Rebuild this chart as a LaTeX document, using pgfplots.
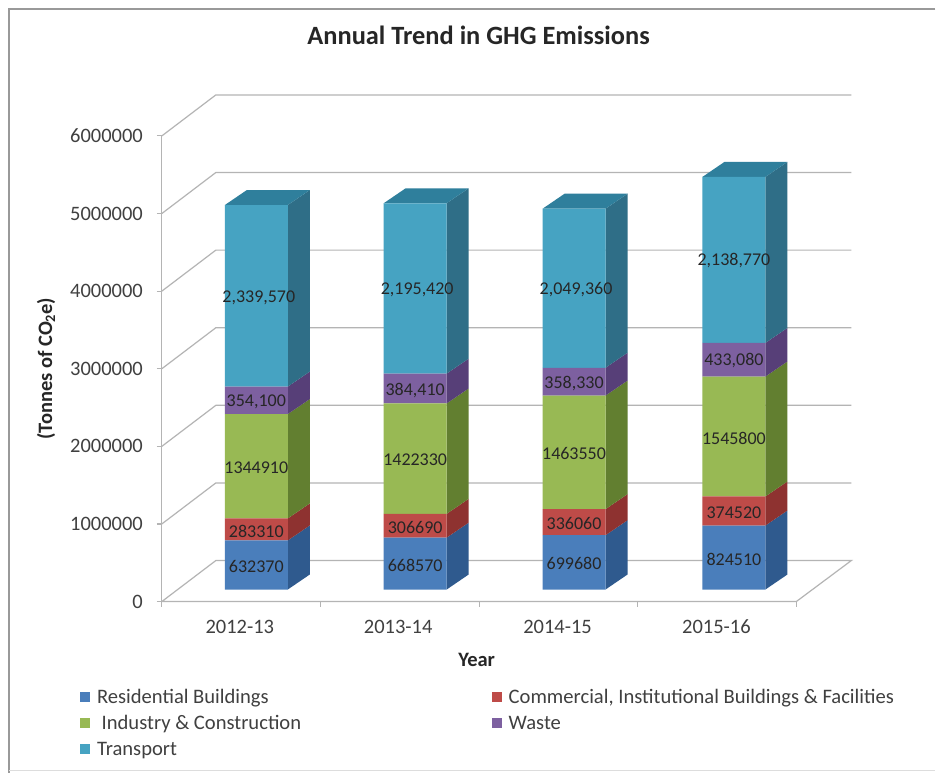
\documentclass[border=0pt]{standalone}
\usepackage{fontspec}
\setmainfont{Carlito}
\usepackage{pgfplots}
\usepackage{pgfplotstable}
\pgfplotsset{compat=1.18}

% Front face colours
\definecolor{resF}{HTML}{4A7EBB}
\definecolor{comF}{HTML}{BE4B48}
\definecolor{indF}{HTML}{98B954}
\definecolor{wasF}{HTML}{7D60A0}
\definecolor{traF}{HTML}{46A3C2}
% Side face colours
\definecolor{resS}{HTML}{2F5A8E}
\definecolor{comS}{HTML}{8E3230}
\definecolor{indS}{HTML}{627F30}
\definecolor{wasS}{HTML}{573F78}
\definecolor{traS}{HTML}{2F6E87}
\definecolor{traT}{HTML}{2F7F9C}
\definecolor{gridc}{HTML}{B4B4B4}
\definecolor{txtc}{HTML}{404040}

% Emissions per year (tonnes of CO2e)
\pgfplotstableread{
x     res    com    ind     was    tra
256.5 632370 283310 1344910 354100 2339570
415.5 668570 306690 1422330 384410 2195420
574.5 699680 336060 1463550 358330 2049360
734.5 824510 374520 1545800 433080 2138770
}\emissions

% Common frame: one x unit is one point, 466pt span 6 million tonnes
\pgfplotsset{
  frame/.style={
    anchor=south west, scale only axis, width=690pt, height=466pt,
    xmin=162, xmax=852, ymin=0, ymax=6000000, clip=false},
  hidden/.style={frame, hide axis, at={(162pt,184pt)}},
}

\newcommand\barwidth{63}
\newcommand\depthx{22}
\newcommand\depthy{193133}
% One side parallelogram: left x, lower value, upper value, colour
\newcommand\sideface[4]{%
  \edef\doplot{\noexpand\addplot[fill=#4,draw=none,forget plot] coordinates {
    (\the\numexpr#1+\barwidth\relax,#2)
    (\the\numexpr#1+\barwidth+\depthx\relax,\the\numexpr#2+\depthy\relax)
    (\the\numexpr#1+\barwidth+\depthx\relax,\the\numexpr#3+\depthy\relax)
    (\the\numexpr#1+\barwidth\relax,#3)};}\doplot}
% Side and top faces of a whole stack: left x, then the five segment values
\newcommand\stackfaces[6]{%
  \edef\va{\the\numexpr#2\relax}%
  \edef\vb{\the\numexpr\va+#3\relax}%
  \edef\vc{\the\numexpr\vb+#4\relax}%
  \edef\vd{\the\numexpr\vc+#5\relax}%
  \edef\ve{\the\numexpr\vd+#6\relax}%
  \sideface{#1}{0}{\va}{resS}%
  \sideface{#1}{\va}{\vb}{comS}%
  \sideface{#1}{\vb}{\vc}{indS}%
  \sideface{#1}{\vc}{\vd}{wasS}%
  \sideface{#1}{\vd}{\ve}{traS}%
  \edef\doplot{\noexpand\addplot[fill=traT,draw=none,forget plot] coordinates {
    (#1,\ve)
    (\the\numexpr#1+\barwidth\relax,\ve)
    (\the\numexpr#1+\barwidth+\depthx\relax,\the\numexpr\ve+\depthy\relax)
    (\the\numexpr#1+\depthx\relax,\the\numexpr\ve+\depthy\relax)};}\doplot}

\begin{document}
\begin{tikzpicture}[x=1pt,y=1pt]
\path[fill=white] (0,0) rectangle (936,774);
% Chart area border
\draw[gridc!85!black,line width=1.5pt] (936,765) -- (9,765) -- (9,0);
\draw[gridc!45,line width=.8pt] (9,3) -- (936,3);

% Walls, floor, ticks, titles and legend
\begin{axis}[frame, at={(162pt,172pt)},
  axis lines=left,
  axis line style={draw=gridc,line width=1.2pt,-},
  x axis line style={draw=none},
  tick style={draw=gridc,line width=1.2pt},
  tick align=outside,
  major tick length=5pt, minor tick length=5pt,
  ytick={0,1000000,...,6000000},
  xtick={240,398.5,558,717},
  xticklabels={2012-13,2013-14,2014-15,2015-16},
  major x tick style={draw=none},
  minor xtick={162,320.75,479.5,638.25,797},
  scaled y ticks=false,
  /pgf/number format/fixed,
  /pgf/number format/1000 sep={},
  /pgf/number format/assume math mode=true,
  ticklabel style={font=\fontsize{20.5}{22}\selectfont,text=txtc},
  xticklabel style={yshift=-10pt},
  yticklabel style={xshift=-10.5pt},
  title={Annual Trend in GHG Emissions},
  title style={font=\bfseries\fontsize{26.4}{30}\selectfont,text=black!85,anchor=center,
    at={(axis description cs:0.4594,1.2039)}},
  xlabel={Year},
  xlabel style={font=\bfseries\fontsize{20.5}{24}\selectfont,text=black!85,anchor=center,
    at={(axis description cs:0.4565,-0.1245)}},
  ylabel={(Tonnes of CO\textsubscript{2}e)},
  ylabel style={font=\bfseries\fontsize{20.5}{24}\selectfont,text=black!85,anchor=center,
    at={(axis description cs:-0.168,0.5)}},
  legend columns=2,
  legend cell align=left,
  legend style={draw=none,fill=none,at={(axis description cs:-0.1233,-0.1730)},anchor=north west,
    font=\fontsize{20.6}{24}\selectfont,text=txtc,
    nodes={inner ysep=0pt,minimum height=26pt},row sep=0pt,column sep=0pt},
  legend image code/.code={\path[#1,draw=none] (0pt,-5pt) rectangle (10pt,5pt);\path[draw=none,fill=none] (0pt,0pt) -- (15pt,0pt);},
]
% Grid lines across the left and back walls
\addplot[gridc,line width=1.2pt,forget plot] coordinates {(162,1000000)(216,1527880)(852,1527880)};
\addplot[gridc,line width=1.2pt,forget plot] coordinates {(162,2000000)(216,2527880)(852,2527880)};
\addplot[gridc,line width=1.2pt,forget plot] coordinates {(162,3000000)(216,3527880)(852,3527880)};
\addplot[gridc,line width=1.2pt,forget plot] coordinates {(162,4000000)(216,4527880)(852,4527880)};
\addplot[gridc,line width=1.2pt,forget plot] coordinates {(162,5000000)(216,5527880)(852,5527880)};
\addplot[gridc,line width=1.2pt,forget plot] coordinates {(162,6000000)(216,6527880)(852,6527880)};
% Floor outline
\addplot[gridc,line width=1.2pt,forget plot] coordinates {(162,0)(216,527880)(852,527880)(797,0)(162,0)};
% Legend entries
\addlegendimage{fill=resF}\addlegendentry{\makebox[393pt][l]{Residential Buildings}}
\addlegendimage{fill=comF}\addlegendentry{Commercial, Institutional Buildings \& Facilities}
\addlegendimage{fill=indF}\addlegendentry{\makebox[393pt][l]{\ Industry \& Construction}}
\addlegendimage{fill=wasF}\addlegendentry{Waste}
\addlegendimage{fill=traF}\addlegendentry{Transport}
\end{axis}

% Side and top faces of the bars
\begin{axis}[hidden]
\stackfaces{225}{632370}{283310}{1344910}{354100}{2339570}
\stackfaces{384}{668570}{306690}{1422330}{384410}{2195420}
\stackfaces{543}{699680}{336060}{1463550}{358330}{2049360}
\stackfaces{703}{824510}{374520}{1545800}{433080}{2138770}
\end{axis}

% Front faces of the bars
\begin{axis}[hidden, ybar stacked, bar width=63]
\addplot[fill=resF,draw=none] table[x=x,y=res] {\emissions};
\addplot[fill=comF,draw=none] table[x=x,y=com] {\emissions};
\addplot[fill=indF,draw=none] table[x=x,y=ind] {\emissions};
\addplot[fill=wasF,draw=none] table[x=x,y=was] {\emissions};
\addplot[fill=traF,draw=none] table[x=x,y=tra] {\emissions};
\end{axis}

% Value labels centred on each segment
\begin{axis}[hidden]
\addplot[only marks,mark=none,point meta=explicit symbolic,
  nodes near coords,
  nodes near coords style={anchor=center,yshift=-1.5pt,font=\fontsize{18}{20}\selectfont,text=black!85}]
  table[meta=label] {
  x     y       label
  256.5 316185  632370
  256.5 774025  283310
  256.5 1588135 1344910
  256.5 2437640 354,100
  259   3784475 2,339,570
  415.5 334285  668570
  415.5 821915  306690
  415.5 1686425 1422330
  415.5 2589795 384,410
  417.5 3879710 2,195,420
  574.5 349840  699680
  574.5 867710  336060
  574.5 1767515 1463550
  574.5 2678455 358,330
  576.5 3882000 2,049,360
  734.5 412255  824510
  734.5 1011770 374520
  734.5 1971930 1545800
  734.5 2973370 433,080
  734.5 4258000 2,138,770
};
\end{axis}
\end{tikzpicture}
\end{document}
